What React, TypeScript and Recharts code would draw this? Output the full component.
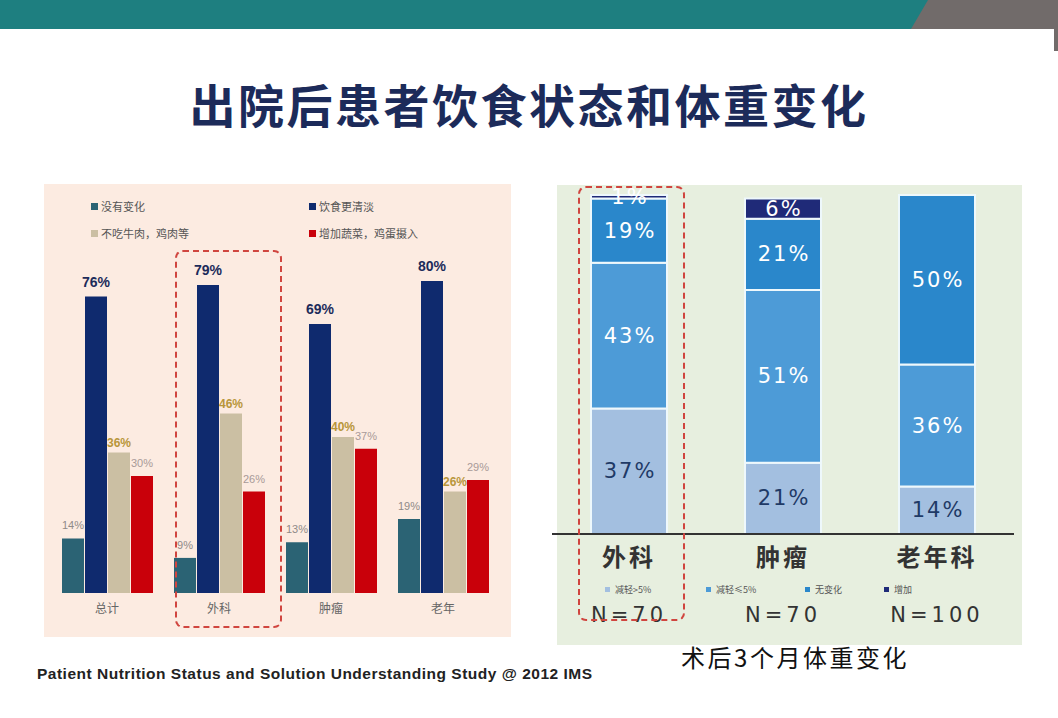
import React from 'react';
import { BarChart, Bar, XAxis, YAxis, LabelList } from 'recharts';

// ---------- Left chart data (饮食状态) ----------
const leftCategories = ['总计', '外科', '肿瘤', '老年'];
const noChange = [14, 9, 13, 19];
const lighterDiet = [76, 79, 69, 80];
const noMeat = [36, 46, 40, 26];
const moreVeg = [30, 26, 37, 29];
const leftSeriesNames = ['没有变化', '饮食更清淡', '不吃牛肉，鸡肉等', '增加蔬菜，鸡蛋摄入'];
const leftColors = ['#2b6374', '#0f2a6e', '#cbbfa3', '#c9000a'];

// ---------- Right chart data (体重变化) ----------
const rightCategories = ['外科', '肿瘤', '老年科'];
const rightN = ['N=70', 'N=70', 'N=100'];
const lossOver5 = [37, 21, 14];
const lossUpTo5 = [43, 51, 36];
const unchanged = [19, 21, 50];
const gained = [1, 6, 0];
const rightSeriesNames = ['减轻>5%', '减轻≤5%', '无变化', '增加'];
const rightColors = ['#a3bfe0', '#4d9bd7', '#2a87cb', '#1f2a78'];

const leftData = leftCategories.map((c, i) => ({
  name: c,
  noChange: noChange[i],
  lighterDiet: lighterDiet[i],
  noMeat: noMeat[i],
  moreVeg: moreVeg[i],
}));

const rightData = rightCategories.map((c, i) => ({
  name: c,
  n: rightN[i],
  lossOver5: lossOver5[i],
  lossUpTo5: lossUpTo5[i],
  unchanged: unchanged[i],
  gained: gained[i],
}));

const CJK = '"Noto Sans CJK SC", "Noto Sans", sans-serif';

const makeLeftLabel = (color: string, size: number, weight: number, dy: number) => (props: any) => {
  const { x, y, width, value } = props;
  return (
    <text
      x={Number(x) + Number(width) / 2}
      y={Number(y) - dy}
      textAnchor="middle"
      fill={color}
      fontSize={size}
      fontWeight={weight}
      fontFamily='"Liberation Sans", Arial, sans-serif'
    >
      {value}%
    </text>
  );
};

const makeRightLabel = (color: string) => (props: any) => {
  const { x, y, width, height, value } = props;
  if (!value) return null;
  return (
    <text
      x={Number(x) + Number(width) / 2 + 1}
      y={Number(y) + Number(height) / 2}
      textAnchor="middle"
      dominantBaseline="central"
      fill={color}
      fontSize={21}
      letterSpacing={2}
      fontFamily='"DejaVu Sans", Verdana, sans-serif'
    >
      {value}%
    </text>
  );
};

const LeftTick = (props: any) => {
  const { x, y, payload } = props;
  return (
    <text x={x} y={y + 14} textAnchor="middle" dominantBaseline="central" fill="#666" fontSize={12} fontFamily={CJK}>
      {payload.value}
    </text>
  );
};

const RightTick = (props: any) => {
  const { x, y, payload, index } = props;
  return (
    <g>
      <text x={x} y={y + 21} textAnchor="middle" dominantBaseline="central" fill="#333" fontSize={24} fontWeight={600} letterSpacing={3} fontFamily={CJK}>
        {payload.value}
      </text>
      <text x={x} y={y + 81} textAnchor="middle" dominantBaseline="central" fill="#333" fontSize={21} letterSpacing={4} fontFamily='"DejaVu Sans", Verdana, sans-serif'>
        {rightN[index]}
      </text>
    </g>
  );
};

export default function App() {
  return (
    <div style={{ position: 'absolute', left: 0, top: 0, width: 1058, height: 718, background: '#ffffff', overflow: 'hidden', fontFamily: CJK }}>
      {/* header band */}
      <svg width={1058} height={52} style={{ position: 'absolute', left: 0, top: 0 }}>
        <rect x={0} y={0} width={1058} height={29} fill="#1e7f80" />
        <polygon points="928,0 1058,0 1058,29 911,29" fill="#716b6a" />
        <rect x={1054} y={29} width={4} height={22} fill="#716b6a" />
      </svg>

      {/* title */}
      <div style={{ position: 'absolute', left: 0, top: 80, width: 1058, textAlign: 'center', fontSize: 46, lineHeight: '46px', fontWeight: 700, color: '#1c2b5a', letterSpacing: 2.5, fontFamily: CJK }}>
        出院后患者饮食状态和体重变化
      </div>

      {/* left panel */}
      <div style={{ position: 'absolute', left: 44, top: 184, width: 467, height: 453, background: '#fcebe1' }} />
      {leftSeriesNames.map((n, i) => (
        <div key={n} style={{ position: 'absolute', left: i % 2 === 0 ? 91 : 309, top: i < 2 ? 199 : 226, height: 14, display: 'flex', alignItems: 'center', fontSize: 11, color: '#555', fontFamily: CJK }}>
          <span style={{ display: 'inline-block', width: 7, height: 7, background: leftColors[i], marginRight: 3 }} />
          {n}
        </div>
      ))}
      <div style={{ position: 'absolute', left: 42, top: 183 }}>
        <BarChart width={470} height={454} data={leftData} margin={{ top: 20, right: 13, bottom: 14, left: 9 }} barCategoryGap={11} barGap={1}>
          <XAxis dataKey="name" axisLine={false} tickLine={false} tickSize={0} tickMargin={0} height={30} tick={<LeftTick />} interval={0} />
          <YAxis hide domain={[0, 100]} />
          <Bar dataKey="noChange" fill={leftColors[0]} isAnimationActive={false}>
            <LabelList dataKey="noChange" content={makeLeftLabel('#8f8a88', 11, 400, 9)} />
          </Bar>
          <Bar dataKey="lighterDiet" fill={leftColors[1]} isAnimationActive={false}>
            <LabelList dataKey="lighterDiet" content={makeLeftLabel('#1c2b5a', 14, 700, 10)} />
          </Bar>
          <Bar dataKey="noMeat" fill={leftColors[2]} isAnimationActive={false}>
            <LabelList dataKey="noMeat" content={makeLeftLabel('#b8963a', 12, 700, 6)} />
          </Bar>
          <Bar dataKey="moreVeg" fill={leftColors[3]} isAnimationActive={false}>
            <LabelList dataKey="moreVeg" content={makeLeftLabel('#a89a98', 11, 400, 9)} />
          </Bar>
        </BarChart>
      </div>
      <div style={{ position: 'absolute', left: 175, top: 250, width: 107, height: 378, border: '2px dashed #d0453f', borderRadius: 8, boxSizing: 'border-box' }} />

      {/* right panel */}
      <div style={{ position: 'absolute', left: 557, top: 185, width: 465, height: 460, background: '#e7efdf' }} />
      <div style={{ position: 'absolute', left: 540, top: 184 }}>
        <BarChart width={490} height={461} data={rightData} margin={{ top: 11, right: 16, bottom: 11, left: 12 }} barCategoryGap={39}>
          <XAxis dataKey="name" axisLine={{ stroke: '#333', strokeWidth: 2 }} tickLine={false} tickSize={0} tickMargin={0} height={100} tick={<RightTick />} interval={0} />
          <YAxis hide domain={[0, 100]} />
          <Bar dataKey="lossOver5" stackId="w" fill={rightColors[0]} stroke="#eef8fc" strokeWidth={2} isAnimationActive={false}>
            <LabelList dataKey="lossOver5" content={makeRightLabel('#1f3a66')} />
          </Bar>
          <Bar dataKey="lossUpTo5" stackId="w" fill={rightColors[1]} stroke="#eef8fc" strokeWidth={2} isAnimationActive={false}>
            <LabelList dataKey="lossUpTo5" content={makeRightLabel('#ffffff')} />
          </Bar>
          <Bar dataKey="unchanged" stackId="w" fill={rightColors[2]} stroke="#eef8fc" strokeWidth={2} isAnimationActive={false}>
            <LabelList dataKey="unchanged" content={makeRightLabel('#ffffff')} />
          </Bar>
          <Bar dataKey="gained" stackId="w" fill={rightColors[3]} stroke="#eef8fc" strokeWidth={2} isAnimationActive={false}>
            <LabelList dataKey="gained" content={makeRightLabel('#ffffff')} />
          </Bar>
        </BarChart>
      </div>
      {rightSeriesNames.map((n, i) => (
        <div key={n} style={{ position: 'absolute', left: [605, 706, 805, 884][i], top: 583, height: 12, display: 'flex', alignItems: 'center', fontSize: 9, color: '#555', fontFamily: CJK }}>
          <span style={{ display: 'inline-block', width: 5, height: 5, background: rightColors[i], marginRight: 5 }} />
          {n}
        </div>
      ))}
      <div style={{ position: 'absolute', left: 578, top: 186, width: 107, height: 435, border: '2px dashed #d0453f', borderRadius: 8, boxSizing: 'border-box' }} />

      {/* caption */}
      <div style={{ position: 'absolute', left: 594, top: 643, width: 402, textAlign: 'center', fontSize: 24, lineHeight: '28px', color: '#111', letterSpacing: 2.5, fontFamily: CJK }}>
        术后3个月体重变化
      </div>

      {/* footer */}
      <div style={{ position: 'absolute', left: 37, top: 664, fontSize: 15.5, lineHeight: '20px', fontWeight: 700, color: '#222', letterSpacing: 0.5, whiteSpace: 'nowrap', fontFamily: '"Liberation Sans", Arial, sans-serif' }}>
        Patient Nutrition Status and Solution Understanding Study @ 2012 IMS
      </div>
    </div>
  );
}
